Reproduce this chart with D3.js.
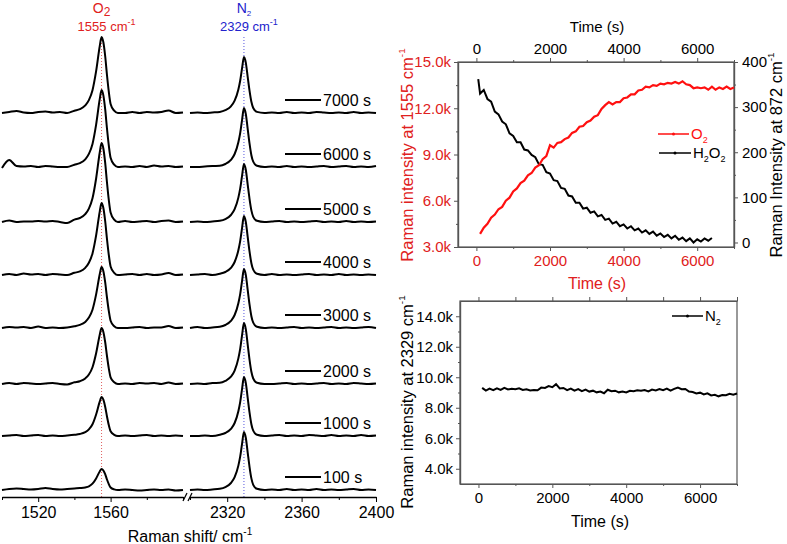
<!DOCTYPE html>
<html><head><meta charset="utf-8">
<script src="https://cdn.jsdelivr.net/npm/d3@7"></script>
<style>body{margin:0;background:#fff}svg{display:block;font-family:"Liberation Sans",Arial,sans-serif}</style>
</head><body><svg id="c" width="787" height="544"></svg>
<script>
// ---------- Left panel: stacked Raman spectra ----------
const times = ["100 s","1000 s","2000 s","3000 s","4000 s","5000 s","6000 s","7000 s"];
const offsets = [0, 54, 106, 162, 215, 268, 323, 377];
const o2Shift = [1500,1504,1508,1512,1516,1520,1524,1528,1532,1536,1540,1543,1546,1548,1550,1552,1554,1555,1556,1557,1558,1559,1560,1562,1564,1568,1572,1576,1580,1584,1588,1592,1596,1600];
const o2Spectra = [
 [0,1,1.5,1,0.5,1,2,1,0.5,1,1.6,2,2.6,3.6,6.3,11.6,18.5,21,19.5,15.8,10.5,5.9,2.5,0.6,0,0.5,0,-0.5,0,0.5,0,0.5,-0.5,0],
 [0,0.5,1,0,0.5,1,0,0.5,0,0.5,1.2,2,3.9,6.6,11.7,21.5,34.3,39,36.3,29.3,19.5,10.9,4.7,1.2,0,0.5,0,0.5,1,0,0.5,0,0.5,0],
 [0,1,0,1,0.5,0,0.5,1,0,-0.5,1.7,2.8,5.6,9.5,16.8,30.8,49.3,56,52.1,42,28,15.7,6.7,1.7,0,0.5,0,1,0.5,1,0,1.5,0,0.5],
 [0,1,0.5,1,0,1.5,0,0.5,0,0.5,1.8,3.1,6.1,10.4,18.3,33.6,53.7,61,56.7,45.8,30.5,17.1,7.3,1.8,0,0,0.5,1,0,0.5,0.5,2,0,0.5],
 [0,1,0,1.5,0.5,1,0,1,0.5,0,2.2,3.6,7.2,12.2,21.6,39.6,63.4,72,67,54,36,20.2,8.6,2.2,0,0.5,1,0,1,0,0.5,2,0,0.5],
 [0,1.5,0,0.5,0.5,1,0.5,1,0,-1,2.4,4,7.9,13.4,23.7,43.5,69.5,79,73.5,59.3,39.5,22.1,9.5,2.4,0,1,0,0.5,1,0,1,1.5,0,0.5],
 [-1,7,1,0.5,1,0,1,0.5,0,0,2.3,3.9,7.7,13.1,23.1,42.4,67.8,77,71.6,57.8,38.5,21.6,9.2,2.3,0,0.5,0,1,0,1.5,0.5,1,0,0.5],
 [0,1,2,0.5,0,1,1.5,0.5,1,0,2.3,3.8,7.6,12.9,22.8,41.8,66.9,76,70.7,57,38,21.3,9.1,2.3,0,0,1,0,1,0.5,1,2.5,0,0.5]
];
const n2Shift = [2300,2304,2308,2312,2316,2319,2322,2324,2326,2327,2328,2329,2330,2331,2332,2333,2334,2336,2340,2344,2348,2352,2356,2360,2364,2368,2372,2376,2380,2384,2388,2392,2396,2400];
const n2Spectra = [
 [0,0.5,0,0.5,1.2,2.9,7,12.8,24.4,33.6,46.4,58,52.2,37.7,23.2,11.6,5.2,1.2,0,0.5,0,1,0,0.5,0,1,0,0.5,0,0.5,1,0,0.5,0],
 [0,0,0.5,0,1.2,3,7.1,13,24.8,34.2,47.2,59,53.1,38.4,23.6,11.8,5.3,1.2,0,0.5,1,0,0.5,0,1,0.5,0,1,0,0.5,0,1,0,0.5],
 [0,0.5,0,1,1.2,3.1,7.3,13.4,25.6,35.4,48.8,61,54.9,39.7,24.4,12.2,5.5,1.2,0,0,0.5,1,0,0.5,0,0.5,1,0,0.5,0,1,0.5,0,0.5],
 [0,1,0,0.5,1.2,3,7.1,13,24.8,34.2,47.2,59,53.1,38.4,23.6,11.8,5.3,1.2,0,0.5,0,0.5,1,0,0.5,0,0.5,1,0,0.5,0,0.5,1,0],
 [0,0.5,1,0,1.2,3,7.1,13,24.8,34.2,47.2,59,53.1,38.4,23.6,11.8,5.3,1.2,0,1,0,0.5,0,0.5,1,0,0.5,0,1,0,0.5,0,0.5,0],
 [0,0.5,0,0.5,1.2,2.9,7,12.8,24.4,33.6,46.4,58,52.2,37.7,23.2,11.6,5.2,1.2,0,0.5,1,0,0.5,0,0.5,1,0,0.5,0,1,0,0.5,0,0.5],
 [0,0,0.5,1,1.2,3,7.1,13,24.8,34.2,47.2,59,53.1,38.4,23.6,11.8,5.3,1.2,0,0.5,0,1,0,0.5,0,0.5,1,0,0.5,1,0,0.5,0,1],
 [0,0.5,0,0.5,1.1,2.8,6.7,12.3,23.5,32.5,44.8,56,50.4,36.4,22.4,11.2,5,1.1,0,0.5,0,1,0,0.5,0,1,0.5,0,0.5,0,1,0,0.5,0]
];
const shiftTicksLeft = [1520, 1560];
const shiftMinorLeft = [1500, 1540, 1580, 1600];
const shiftTicksRight = [2320, 2360, 2400];
const shiftMinorRight = [2300, 2340, 2380];

// ---------- Right top: O2 and H2O2 vs time ----------
const o2Time = [100,200,300,400,500,600,700,800,900,1000,1100,1200,1300,1400,1500,1600,1700,1800,1900,2000,2100,2200,2300,2400,2500,2600,2700,2800,2900,3000,3100,3200,3300,3400,3500,3600,3700,3800,3900,4000,4100,4200,4300,4400,4500,4600,4700,4800,4900,5000,5100,5200,5300,5400,5500,5600,5700,5800,5900,6000,6100,6200,6300,6400,6500,6600,6700,6800,6900,7000];
const o2Values = [3850,4250,4500,4900,5100,5450,5600,6000,6200,6600,6800,7150,7300,7650,7800,8150,8300,8700,8900,9600,9450,9750,9800,10000,10100,10400,10500,10800,10850,11100,11200,11450,11550,11950,12200,12400,12250,12400,12400,12650,12700,12900,12900,13150,13200,13400,13350,13500,13450,13600,13550,13650,13600,13700,13600,13750,13550,13500,13300,13350,13300,13350,13200,13400,13200,13350,13250,13400,13250,13350];
const h2o2Time = [50,100,200,300,400,500,600,700,800,900,1000,1100,1200,1300,1400,1500,1600,1700,1800,1900,2000,2100,2200,2300,2400,2500,2600,2700,2800,2900,3000,3100,3200,3300,3400,3500,3600,3700,3800,3900,4000,4100,4200,4300,4400,4500,4600,4700,4800,4900,5000,5100,5200,5300,5400,5500,5600,5700,5800,5900,6000,6100,6200,6300,6400];
const h2o2Values = [362,330,338,318,312,290,284,268,262,242,236,222,222,206,204,194,189,173,172,156,153,138,136,121,119,104,102,88,88,75,77,66,69,58,61,50,53,42,46,36,40,31,36,27,31,22,27,19,24,15,20,12,17,9,15,6,11,3,9,0,7,2,9,4,10];
const timeTicks = [0, 2000, 4000, 6000];
const timeMinor = [1000, 3000, 5000, 7000];
const o2Ticks = [3000, 6000, 9000, 12000, 15000];
const h2o2Ticks = [0, 100, 200, 300, 400];

// ---------- Right bottom: N2 vs time ----------
const n2Time = o2Time.slice();
const n2Values = [9300,9120,9250,9150,9270,9170,9300,9200,9250,9220,9270,9170,9210,9130,9160,9150,9320,9300,9420,9350,9550,9270,9300,9160,9260,9120,9220,9090,9190,9060,9120,9010,9060,8950,9180,9080,9120,9010,9060,9000,9110,9080,9140,9110,9160,9070,9190,9140,9230,9150,9250,9120,9240,9330,9220,9230,9060,9030,8940,8990,8870,8950,8810,8850,8750,8830,8820,8920,8850,8930];
const n2Ticks = [4000, 6000, 8000, 10000, 12000, 14000];

// ================= drawing =================
const svg = d3.select("#c");
svg.append("rect").attr("width",787).attr("height",544).attr("fill","#fff");
const AX = "#555";
const kfmt = d => (d/1000).toFixed(1) + "k";
const plain = d => String(d);

// ---- left panel ----
const xL = d3.scaleLinear().domain([1500,1600]).range([2,183]);
const xR = d3.scaleLinear().domain([2300,2400]).range([190,376]);
const yS = d3.scaleLinear().domain([0,380]).range([490,110]);
const axisY = 497;

svg.append("line").attr("x1",xL(1555)).attr("x2",xL(1555)).attr("y1",37).attr("y2",axisY)
  .attr("stroke","#e06060").attr("stroke-width",1).attr("stroke-dasharray","1,2");
svg.append("line").attr("x1",xR(2329)).attr("x2",xR(2329)).attr("y1",37).attr("y2",axisY)
  .attr("stroke","#5555dd").attr("stroke-width",1).attr("stroke-dasharray","1,2");

const lineL = d3.line().curve(d3.curveMonotoneX);
o2Spectra.forEach((arr,i) => {
  svg.append("path").attr("fill","none").attr("stroke","#000").attr("stroke-width",2)
    .attr("d", lineL(arr.map((v,j)=>[xL(o2Shift[j]), yS(offsets[i]+v)])));
});
n2Spectra.forEach((arr,i) => {
  svg.append("path").attr("fill","none").attr("stroke","#000").attr("stroke-width",2)
    .attr("d", lineL(arr.map((v,j)=>[xR(n2Shift[j]), yS(offsets[i]+v)])));
});
times.forEach((t,i) => {
  const yy = yS(offsets[i]) - 13;
  svg.append("line").attr("x1",285).attr("x2",321).attr("y1",yy).attr("y2",yy).attr("stroke","#000").attr("stroke-width",2);
  svg.append("text").attr("x",323).attr("y",yy+6).attr("font-size",16).text(t);
});
const gL = svg.append("g").attr("transform",`translate(0,${axisY})`);
function styleL(g){g.select(".domain").attr("stroke","#000").attr("stroke-width",1.3);g.selectAll("line").attr("stroke","#000");g.selectAll("text").attr("font-size",16).attr("font-family","Liberation Sans, Arial").attr("fill","#000");}
gL.append("g").call(d3.axisBottom(xL).tickValues(shiftTicksLeft).tickFormat(plain).tickSize(5).tickPadding(5).tickSizeOuter(0)).call(styleL);
gL.append("g").call(d3.axisBottom(xL).tickValues(shiftMinorLeft).tickSize(3).tickFormat("").tickSizeOuter(0)).call(g=>{g.select(".domain").remove();g.selectAll("line").attr("stroke","#000");});
gL.append("g").call(d3.axisBottom(xR).tickValues(shiftTicksRight).tickFormat(plain).tickSize(5).tickPadding(5).tickSizeOuter(0)).call(styleL);
gL.append("g").call(d3.axisBottom(xR).tickValues(shiftMinorRight).tickSize(3).tickFormat("").tickSizeOuter(0)).call(g=>{g.select(".domain").remove();g.selectAll("line").attr("stroke","#000");});
[183,188].forEach(bx=>{
  gL.append("line").attr("x1",bx).attr("x2",bx+4).attr("y1",4).attr("y2",-4).attr("stroke","#000").attr("stroke-width",1.2);
});
const t1 = svg.append("text").attr("x",190).attr("y",542).attr("text-anchor","middle").attr("font-size",16);
t1.append("tspan").text("Raman shift/ cm");
t1.append("tspan").attr("font-size",10).attr("dy",-7).text("-1");
function peakLabel(x, name, subSize, wn, color){
  const a = svg.append("text").attr("x",x).attr("y",13).attr("text-anchor","middle").attr("fill",color).attr("font-size",14);
  a.append("tspan").text(name);
  a.append("tspan").attr("font-size",subSize).attr("dy",3).text("2");
  const b = svg.append("text").attr("x",x+5).attr("y",31).attr("text-anchor","middle").attr("fill",color).attr("font-size",13);
  b.append("tspan").text(wn+" cm");
  b.append("tspan").attr("font-size",9).attr("dy",-6).text("-1");
}
peakLabel(xL(1555), "O", 12, "1555", "#e02020");
peakLabel(xR(2329), "N", 8, "2329", "#2222cc");

// ---- right top panel ----
const xT = d3.scaleLinear().domain([-500,7000]).range([458,734]);
const yO = d3.scaleLinear().domain([3000,15000]).range([247,62]);
const yH = d3.scaleLinear().domain([-10,400]).range([247,62]);
function styleAxis(g, color){
  g.select(".domain").attr("stroke",AX).attr("stroke-width",1.2);
  g.selectAll(".tick line").attr("stroke",AX);
  g.selectAll("text").attr("font-size",15).attr("fill",color).attr("font-family","Liberation Sans, Arial");
}
function frame(top, bottom, left, right){
  svg.append("rect").attr("x",left).attr("y",top).attr("width",right-left).attr("height",bottom-top)
    .attr("fill","none").attr("stroke",AX).attr("stroke-width",1.2);
}
frame(62, 247, 458, 734);
svg.append("g").attr("transform","translate(0,247)").call(d3.axisBottom(xT).tickValues(timeTicks).tickFormat(plain).tickSize(4).tickPadding(4).tickSizeOuter(0)).call(g=>styleAxis(g,"#e02020"));
svg.append("g").attr("transform","translate(0,247)").call(d3.axisBottom(xT).tickValues(timeMinor).tickSize(2).tickFormat("").tickSizeOuter(0)).call(g=>styleAxis(g,"#000"));
svg.append("g").attr("transform","translate(0,62)").call(d3.axisTop(xT).tickValues(timeTicks).tickFormat(plain).tickSize(4).tickPadding(4).tickSizeOuter(0)).call(g=>styleAxis(g,"#000"));
svg.append("g").attr("transform","translate(0,62)").call(d3.axisTop(xT).tickValues(timeMinor).tickSize(2).tickFormat("").tickSizeOuter(0)).call(g=>styleAxis(g,"#000"));
svg.append("g").attr("transform","translate(458,0)").call(d3.axisLeft(yO).tickValues(o2Ticks).tickFormat(kfmt).tickSize(4).tickPadding(3).tickSizeOuter(0)).call(g=>styleAxis(g,"#e02020"));
svg.append("g").attr("transform","translate(458,0)").call(d3.axisLeft(yO).tickValues([4500,7500,10500,13500]).tickSize(2).tickFormat("").tickSizeOuter(0)).call(g=>styleAxis(g,"#000"));
svg.append("g").attr("transform","translate(734,0)").call(d3.axisRight(yH).tickValues(h2o2Ticks).tickFormat(plain).tickSize(4).tickPadding(4).tickSizeOuter(0)).call(g=>styleAxis(g,"#000"));
svg.append("g").attr("transform","translate(734,0)").call(d3.axisRight(yH).tickValues([50,150,250,350]).tickSize(2).tickFormat("").tickSizeOuter(0)).call(g=>styleAxis(g,"#000"));

const lineT = d3.line();
svg.append("path").attr("fill","none").attr("stroke","#000").attr("stroke-width",2)
  .attr("d", lineT(h2o2Time.map((t,i)=>[xT(t), yH(h2o2Values[i])])));
svg.append("path").attr("fill","none").attr("stroke","#ff1010").attr("stroke-width",2.2)
  .attr("d", lineT(o2Time.map((t,i)=>[xT(t), yO(o2Values[i])])));

function rotLabel(x, y, text, color, size){
  const t = svg.append("text").attr("transform",`translate(${x},${y}) rotate(-90)`).attr("text-anchor","middle")
    .attr("fill",color).attr("font-size",size);
  t.append("tspan").text(text + " cm");
  t.append("tspan").attr("font-size",size*0.6).attr("dy",-8).text("-1");
}
rotLabel(413, 155, "Raman intensity at 1555", "#e02020", 16.5);
rotLabel(782, 155, "Raman Intensity at 872", "#000", 16.5);
svg.append("text").attr("x",597).attr("y",32).attr("text-anchor","middle").attr("font-size",15).text("Time (s)");
svg.append("text").attr("x",597).attr("y",289).attr("text-anchor","middle").attr("font-size",16).attr("fill","#e02020").text("Time (s)");
function legend(x1, x2, y, label, sub1, rest, sub2, color){
  svg.append("line").attr("x1",x1).attr("x2",x2).attr("y1",y).attr("y2",y).attr("stroke",color).attr("stroke-width",1.5);
  svg.append("circle").attr("cx",(x1+x2)/2).attr("cy",y).attr("r",1.5).attr("fill",color);
  const t = svg.append("text").attr("x",x2+2).attr("y",y+5).attr("fill",color).attr("font-size",15);
  t.append("tspan").text(label);
  t.append("tspan").attr("font-size",9).attr("dy",4).text(sub1);
  if (rest){ t.append("tspan").attr("dy",-4).text(rest); t.append("tspan").attr("font-size",9).attr("dy",4).text(sub2); }
}
legend(658, 689, 134, "O", "2", null, null, "#ff1010");
legend(659, 691, 153, "H", "2", "O", "2", "#000");

// ---- right bottom panel ----
const xB = d3.scaleLinear().domain([-500,7000]).range([460,737]);
const yN = d3.scaleLinear().domain([3000,15000]).range([484,301]);
frame(301, 484, 460, 737);
svg.append("g").attr("transform","translate(0,484)").call(d3.axisBottom(xB).tickValues(timeTicks).tickFormat(plain).tickSize(4).tickPadding(4).tickSizeOuter(0)).call(g=>styleAxis(g,"#000"));
svg.append("g").attr("transform","translate(0,484)").call(d3.axisBottom(xB).tickValues(timeMinor).tickSize(2).tickFormat("").tickSizeOuter(0)).call(g=>styleAxis(g,"#000"));
svg.append("g").attr("transform","translate(0,301)").call(d3.axisTop(xB).tickValues(timeTicks.concat(timeMinor)).tickSize(4).tickFormat("").tickSizeOuter(0)).call(g=>styleAxis(g,"#000"));
svg.append("g").attr("transform","translate(460,0)").call(d3.axisLeft(yN).tickValues(n2Ticks).tickFormat(kfmt).tickSize(4).tickPadding(3).tickSizeOuter(0)).call(g=>styleAxis(g,"#000"));
svg.append("g").attr("transform","translate(460,0)").call(d3.axisLeft(yN).tickValues([5000,7000,9000,11000,13000]).tickSize(2).tickFormat("").tickSizeOuter(0)).call(g=>styleAxis(g,"#000"));
svg.append("path").attr("fill","none").attr("stroke","#000").attr("stroke-width",2)
  .attr("d", lineT(n2Time.map((t,i)=>[xB(t), yN(n2Values[i])])));
rotLabel(413, 402, "Raman intensity at 2329", "#000", 16.5);
svg.append("text").attr("x",600).attr("y",527).attr("text-anchor","middle").attr("font-size",16).text("Time (s)");
legend(672, 703, 316, "N", "2", null, null, "#000");
</script></body></html>
